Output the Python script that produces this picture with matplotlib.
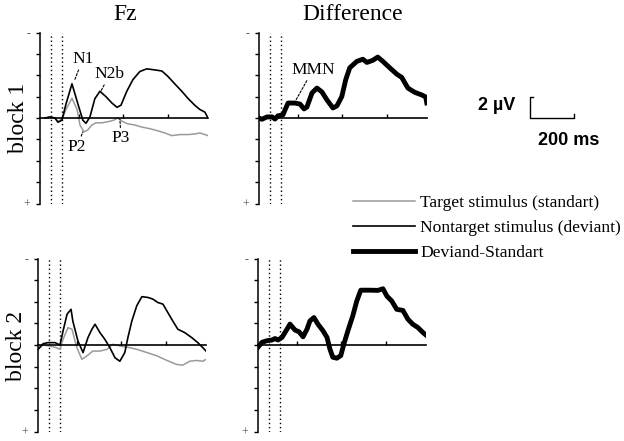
import numpy as np
import matplotlib
matplotlib.use('Agg')
import matplotlib.pyplot as plt

# time in ms, amplitude in uV (negative plotted up, EEG style)
# block 1, Fz
t_fz1_dev = [-52, -30, -8, 6, 24, 42, 69, 96, 118, 132, 150, 172, 195, 222, 249, 272,
             290, 316, 344, 375, 406, 442, 474, 501, 532, 564, 591, 622, 645, 668, 682]
fz1_dev = [0, -0.1, 0, 0.4, 0.2, -1.3, -3.2, -1.3, 0.2, 0.5, -0.1, -1.8, -2.5, -2.0, -1.4, -1.0,
           -1.2, -2.5, -3.6, -4.35, -4.6, -4.5, -4.4, -3.9, -3.2, -2.5, -1.85, -1.2, -0.8, -0.55, 0]
t_fz1_std = [-52, -30, -8, 6, 24, 42, 69, 92, 105, 123, 141, 159, 177, 204, 231, 258,
             276, 294, 321, 352, 384, 420, 456, 488, 519, 555, 591, 622, 645, 668, 682]
fz1_std = [0, -0.1, 0, 0.3, 0.1, -0.8, -1.85, -0.8, 0.65, 1.3, 1.1, 0.65, 0.45, 0.45, 0.35, 0.2,
           0, 0.3, 0.55, 0.65, 0.85, 1.0, 1.2, 1.4, 1.65, 1.55, 1.55, 1.5, 1.4, 1.55, 1.65]

# block 1, difference wave
t_diff1 = [-75, -62, -39, -16, -3, 10, 33, 42, 56, 87, 110, 128, 141, 164, 186, 208, 231, 258,
           276, 298, 316, 334, 366, 393, 411, 438, 460, 483, 514, 546, 568, 596, 627, 658, 676, 681]
diff1 = [0, 0.12, -0.1, -0.1, 0.1, -0.2, -0.3, -0.75, -1.4, -1.4, -1.3, -0.85, -1.03, -2.35, -2.8,
         -2.45, -1.7, -0.94, -1.13, -2.0, -3.6, -4.7, -5.3, -5.5, -5.2, -5.4, -5.7, -5.3, -4.7,
         -4.1, -3.8, -2.8, -2.4, -2.16, -1.97, -1.41]

# block 2, Fz
t_fz2_dev = [-75, -52, -30, 2, 24, 38, 56, 74, 82, 105, 128, 150, 168, 182, 204, 226, 249, 272,
             294, 316, 330, 348, 370, 393, 420, 442, 465, 488, 510, 532, 555, 586, 618, 645, 668, 682]
fz2_dev = [0.4, -0.12, -0.22, -0.22, 0, -1.3, -2.85, -3.3, -2.2, -0.37, 0.7, -0.68, -1.46, -1.92,
           -1.15, -0.53, 0.25, 1.18, 1.5, 0.7, -0.68, -2.23, -3.63, -4.47, -4.4, -4.25, -3.93,
           -3.78, -3.0, -2.23, -1.46, -1.15, -0.68, -0.22, 0.25, 0.56]
t_fz2_std = [-75, -52, -21, 2, 24, 38, 60, 78, 100, 123, 146, 172, 204, 236, 262, 294, 339, 370,
             416, 460, 506, 550, 578, 609, 640, 668, 682]
fz2_std = [0.4, 0, 0.1, 0.2, 0.4, -0.53, -1.6, -1.46, 0.25, 1.33, 1.0, 0.56, 0.56, 0.4, -0.07,
           0.1, 0.25, 0.4, 0.7, 1.0, 1.43, 1.8, 1.86, 1.5, 1.43, 1.5, 1.33]

# block 2, difference wave
t_diff2 = [-75, -57, -34, -12, 2, 15, 33, 56, 69, 92, 110, 128, 146, 159, 177, 195, 218, 236, 249,
           262, 280, 298, 312, 330, 352, 370, 388, 429, 465, 488, 506, 528, 550, 578, 600, 622,
           645, 668, 682]
diff2 = [0.2, -0.25, -0.4, -0.46, -0.6, -0.46, -0.7, -1.47, -1.93, -1.38, -1.22, -0.76, -1.47,
         -2.23, -2.54, -1.93, -1.31, -0.7, 0.37, 1.13, 1.22, 0.98, -0.09, -1.31, -2.69, -4.06,
         -5.07, -5.07, -5.05, -5.2, -4.52, -4.06, -3.3, -3.2, -2.4, -1.93, -1.62, -1.16, -0.92]

x_ticks = [100, 300, 500]
dotted_t = [-25, 25]
y_ticks = [-8, -6, -4, -2, 0, 2, 4, 6, 8]
y_ticklabels = ['-', '', '', '', '', '', '', '', '+']

legend_labels = ['Target stimulus (standart)', 'Nontarget stimulus (deviant)', 'Deviand-Standart']

plt.rcParams['font.family'] = ['Liberation Serif', 'DejaVu Serif']

W, H = 624, 441
fig = plt.figure(figsize=(W / 100, H / 100), dpi=100)


def px_axes(l, t, r, b):
    return fig.add_axes([l / W, 1 - b / H, (r - l) / W, (b - t) / H])


def style(ax):
    ax.set_xlim(-75, 682)
    ax.set_ylim(8, -8)
    ax.patch.set_visible(False)
    ax.spines['top'].set_visible(False)
    ax.spines['right'].set_visible(False)
    ax.spines['bottom'].set_position(('data', 0))
    ax.spines['bottom'].set_linewidth(1.2)
    ax.spines['left'].set_linewidth(1.1)
    ax.set_xticks(x_ticks)
    ax.set_xticklabels([])
    ax.tick_params(axis='x', direction='in', length=3, width=1)
    ax.set_yticks(y_ticks)
    ax.set_yticklabels(y_ticklabels)
    ax.tick_params(axis='y', direction='out', length=3, width=1, labelsize=8.5,
                   labelcolor='#555555', pad=4)
    for t in dotted_t:
        ax.axvline(t, color='black', ls=(0, (1, 2)), lw=1)


ax_fz1 = px_axes(40, 32.5, 208, 203.5)
ax_diff1 = px_axes(259, 32.5, 427, 203.5)
ax_fz2 = px_axes(38, 258.5, 206, 431.5)
ax_diff2 = px_axes(258, 258.5, 426, 431.5)
for ax in (ax_fz1, ax_diff1, ax_fz2, ax_diff2):
    style(ax)

grey = '#9a9a9a'
l_std, = ax_fz1.plot(t_fz1_std, fz1_std, color=grey, lw=1.1)
l_dev, = ax_fz1.plot(t_fz1_dev, fz1_dev, color='black', lw=1.2)
l_diff, = ax_diff1.plot(t_diff1, diff1, color='black', lw=3.5)
ax_fz2.plot(t_fz2_std, fz2_std, color=grey, lw=1.1)
ax_fz2.plot(t_fz2_dev, fz2_dev, color='black', lw=1.2)
ax_diff2.plot(t_diff2, diff2, color='black', lw=3.5)

# component labels
lead = dict(arrowstyle='-', ls=(0, (2, 1.5)), lw=0.8, shrinkA=0, shrinkB=0)
ax_fz1.annotate('N1', xy=(82, -3.6), xytext=(118, -5.5), ha='center', va='center',
                fontsize=12.5, arrowprops=lead)
ax_fz1.annotate('N2b', xy=(199, -2.5), xytext=(240, -4.1), ha='center', va='center',
                fontsize=12.5, arrowprops=lead)
ax_fz1.annotate('P2', xy=(118, 1.3), xytext=(92, 2.7), ha='center', va='center',
                fontsize=12.5, arrowprops=lead)
ax_fz1.annotate('P3', xy=(285, 0.1), xytext=(290, 1.9), ha='center', va='center',
                fontsize=12.5, arrowprops=lead)
ax_diff1.annotate('MMN', xy=(92, -1.7), xytext=(168, -4.5), ha='center', va='center',
                  fontsize=12.5, arrowprops=lead)

# titles and row labels
fig.text(125 / W, 1 - 15 / H, 'Fz', ha='center', va='center', fontsize=17)
fig.text(353 / W, 1 - 15 / H, 'Difference', ha='center', va='center', fontsize=17)
fig.text(18 / W, 1 - 118 / H, 'block 1', ha='center', va='center', rotation=90, fontsize=17)
fig.text(16 / W, 1 - 346 / H, 'block 2', ha='center', va='center', rotation=90, fontsize=17)

# scale bar: 2 uV / 200 ms, drawn in data units of the difference axes
sb_t0, sb_len, sb_amp = 1144, 200, 2
ax_diff1.plot([sb_t0 + 15, sb_t0, sb_t0, sb_t0 + sb_len, sb_t0 + sb_len],
              [-sb_amp, -sb_amp, 0, 0, -0.35], color='black', lw=1, clip_on=False)
ax_diff1.text(sb_t0 - 63, -1.2, '2 µV', ha='right', va='center', fontsize=13,
              fontweight='bold', family='Liberation Sans', clip_on=False)
ax_diff1.text(sb_t0 + 176, 2.07, '200 ms', ha='center', va='center', fontsize=13,
              fontweight='bold', family='Liberation Sans', clip_on=False)

fig.legend(handles=[l_std, l_dev, l_diff], labels=legend_labels, loc='upper left',
           bbox_to_anchor=(353 / W, 1 - 195 / H), frameon=False, fontsize=12.6,
           handlelength=3.55, handletextpad=0.28, labelspacing=0.5, borderpad=0,
           borderaxespad=0)

fig.savefig('out.png', dpi=100)
